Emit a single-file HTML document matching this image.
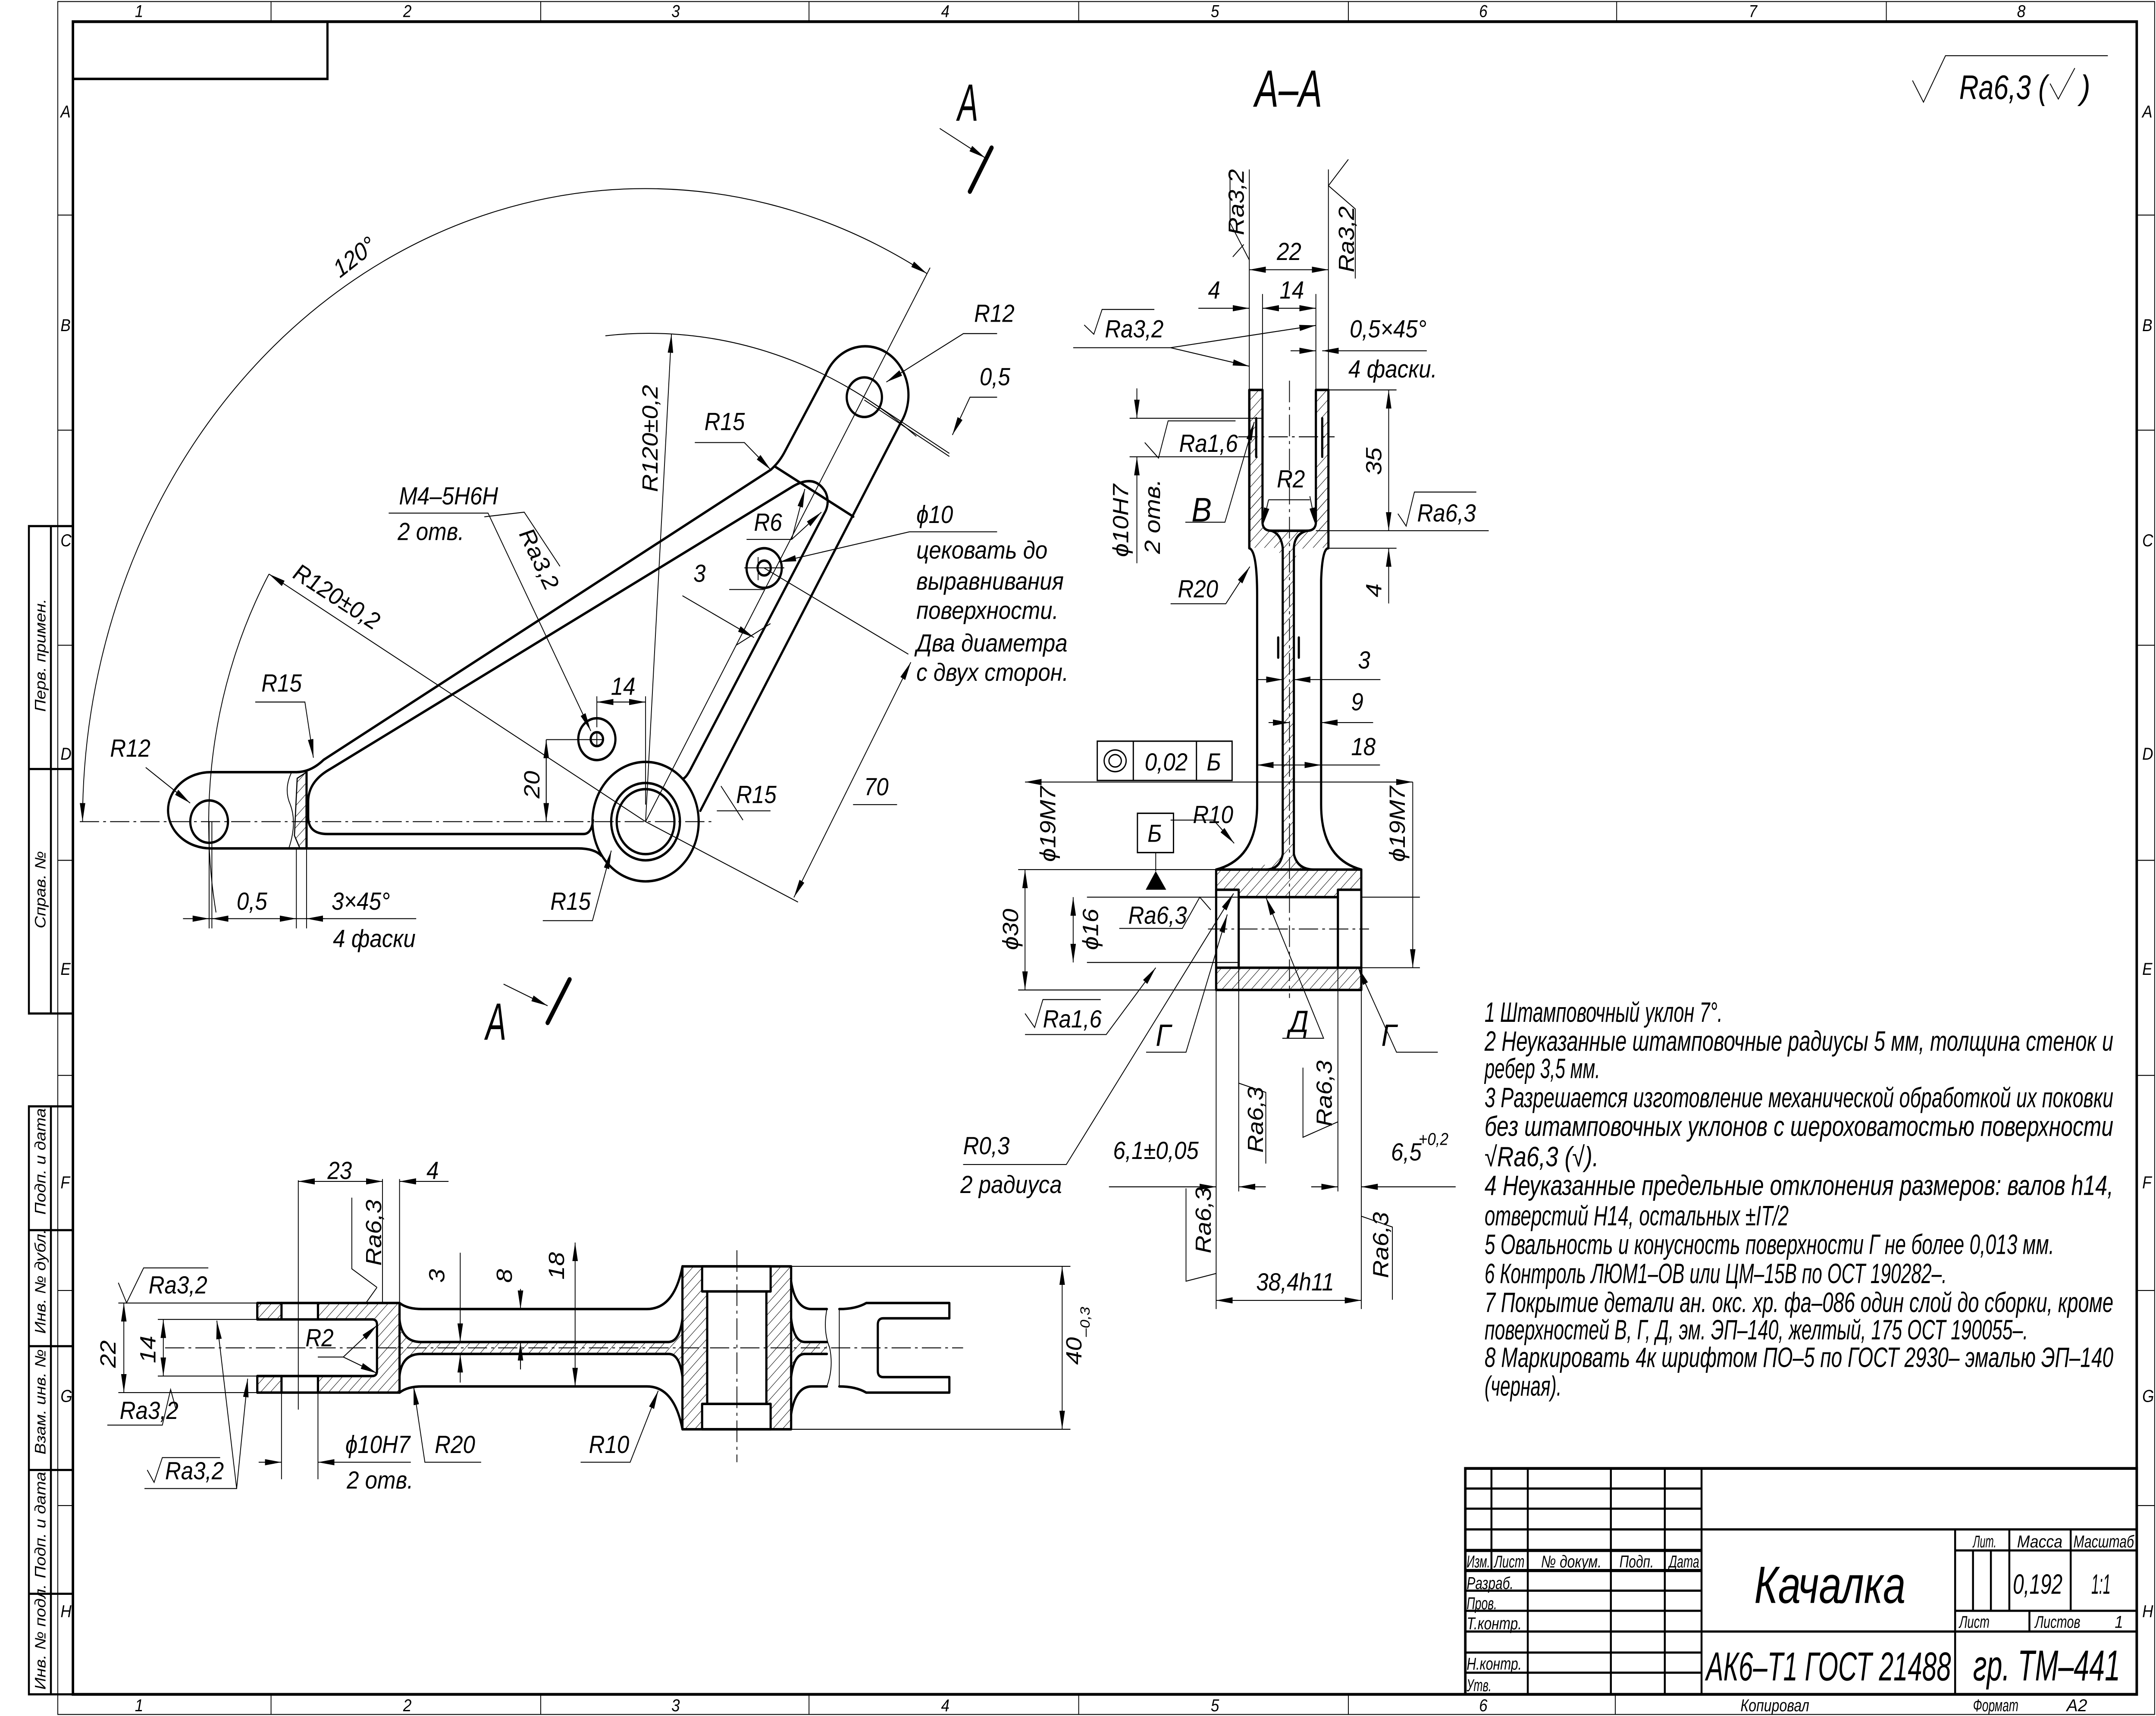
<!DOCTYPE html>
<html><head><meta charset="utf-8"><style>
html,body{margin:0;padding:0;background:#fff;width:100%;height:100%;overflow:hidden}
svg{display:block;position:fixed;left:0;top:0;width:100vw;height:100vh}
text{font-family:"Liberation Sans Narrow","Liberation Sans","DejaVu Sans",sans-serif;font-style:italic;fill:#000;stroke:none}
.k{stroke:#000;stroke-width:1.6;fill:none;stroke-linejoin:round;stroke-linecap:round}
.n{stroke:#000;stroke-width:0.6;fill:none}
.c{stroke:#000;stroke-width:0.6;fill:none;stroke-dasharray:14 3 2 3}
.d{font-size:16px}
</style></head><body>
<svg xmlns="http://www.w3.org/2000/svg" width="5623" height="3980" viewBox="0 0 1567 1109" preserveAspectRatio="none">
<defs>
<pattern id="h" width="5" height="5" patternUnits="userSpaceOnUse" patternTransform="rotate(45)"><line x1="0" y1="0" x2="0" y2="5" stroke="#000" stroke-width="0.6"/></pattern>
<marker id="a" viewBox="0 0 12 4" refX="12" refY="2" markerWidth="12" markerHeight="4" markerUnits="userSpaceOnUse" orient="auto-start-reverse"><path d="M0,0L12,2L0,4z" fill="#000"/></marker>
</defs>
<rect width="1567" height="1109" fill="#fff"/>

<!-- FRAME -->
<g class="n">
<rect x="42" y="1" width="1524" height="1107"/>
<path d="M197,1V14M393,1V14M588,1V14M784,1V14M980,1V14M1175,1V14M1371,1V14"/>
<path d="M197,1095V1108M393,1095V1108M588,1095V1108M784,1095V1108M980,1095V1108M1174,1095V1108"/>
<path d="M42,139H53M42,278H53M42,417H53M42,556H53M42,695H53M42,834H53M42,973H53"/>
<path d="M1553,139H1566M1553,278H1566M1553,417H1566M1553,556H1566M1553,695H1566M1553,834H1566M1553,973H1566"/>
</g>
<rect x="53" y="14" width="1500" height="1081" fill="none" stroke="#000" stroke-width="1.8"/>
<rect x="53" y="14" width="185" height="37" fill="none" stroke="#000" stroke-width="1.6"/>
<g font-size="11">
<text x="98" y="11">1</text><text x="293" y="11">2</text><text x="488" y="11">3</text><text x="684" y="11">4</text><text x="880" y="11">5</text><text x="1075" y="11">6</text><text x="1271" y="11">7</text><text x="1466" y="11">8</text>
<text x="98" y="1106">1</text><text x="293" y="1106">2</text><text x="488" y="1106">3</text><text x="684" y="1106">4</text><text x="880" y="1106">5</text><text x="1075" y="1106">6</text>
<text x="44" y="76">A</text><text x="44" y="214">B</text><text x="44" y="353">C</text><text x="44" y="491">D</text><text x="44" y="630">E</text><text x="44" y="768">F</text><text x="44" y="906">G</text><text x="44" y="1045">H</text>
<text x="1557" y="76">A</text><text x="1557" y="214">B</text><text x="1557" y="353">C</text><text x="1557" y="491">D</text><text x="1557" y="630">E</text><text x="1557" y="768">F</text><text x="1557" y="906">G</text><text x="1557" y="1045">H</text>
</g>
<!-- left stamp -->
<g stroke="#000" stroke-width="1.4" fill="none">
<rect x="21" y="340" width="32" height="315"/>
<rect x="21" y="715" width="32" height="380"/>
<path d="M37,340V655M37,715V1095M21,497H53M21,795H53M21,870H53M21,950H53M21,1030H53"/>
</g>
<g font-size="11">
<text transform="translate(33,460) rotate(-90)">Перв. примен.</text>
<text transform="translate(33,600) rotate(-90)">Справ. №</text>
<text transform="translate(33,785) rotate(-90)">Подп. и дата</text>
<text transform="translate(33,862) rotate(-90)">Инв. № дубл.</text>
<text transform="translate(33,940) rotate(-90)">Взам. инв. №</text>
<text transform="translate(33,1020) rotate(-90)">Подп. и дата</text>
<text transform="translate(33,1092) rotate(-90)">Инв. № подл.</text>
</g>

<!-- TOP RIGHT ROUGHNESS -->
<path class="n" d="M1390,52L1398,66L1414,36H1532" stroke-width="0.9"/>
<text x="1424" y="64" font-size="22" textLength="64" lengthAdjust="spacingAndGlyphs">Ra6,3 (</text>
<path class="n" d="M1490,54L1496,64L1508,44" stroke-width="0.9"/>
<text x="1512" y="64" font-size="22">)</text>

<!-- ===================== MAIN VIEW ===================== -->
<g class="n">
<path class="c" d="M58,531H520"/>
<path d="M60,531A409,409 0 0,1 673.7,176.8" marker-start="url(#a)" marker-end="url(#a)"/>
<path d="M469.2,531L676,173"/>
<path d="M195.5,371A317,317 0 0,0 157,589.7"/>
<path d="M469.2,531L195.5,371" marker-end="url(#a)"/>
<path d="M440,217A317,317 0 0,1 666,282"/>
<path d="M469.2,531L488,216" marker-end="url(#a)"/>
<path d="M152,531V600M154,531V600M215.4,548V600M222.8,548V600"/>
<path d="M133,593.7H302.5"/>
<path d="M140,593.7H152" marker-end="url(#a)"/>
<path d="M204,593.7H215.4" marker-end="url(#a)"/>
<path d="M236,593.7H222.8" marker-end="url(#a)"/>
<path d="M166,593.7H154" marker-end="url(#a)"/>
<path d="M433.8,478H400H397"/>
<path d="M397,478V531" marker-start="url(#a)"/>
<path d="M397,531V478" marker-start="url(#a)"/>
<path d="M433.8,470V450M469.2,520V450"/>
<path d="M433.8,453.7H469.2" marker-start="url(#a)" marker-end="url(#a)"/>
<path d="M282.5,331.6H354.7L429.4,472.4" marker-end="url(#a)"/>
<path d="M352,334L381,331L407,366"/>
<path d="M185.5,453.7H221.6L227.8,489.7" marker-end="url(#a)"/>
<path d="M105.9,496L138.2,519" marker-end="url(#a)"/>
<path d="M394.5,595H430.6L444.3,549.7" marker-end="url(#a)"/>
<path d="M505,286H541L560.2,303.6" marker-end="url(#a)"/>
<path d="M724.7,215.6H700.2L644.2,246.9" marker-end="url(#a)"/>
<path d="M724.7,256.7H705L692.2,281.1" marker-end="url(#a)"/>
<path d="M628.2,256.7L690,293M628.2,258.5L690,295"/>
<path d="M724.7,343.7H661L566.6,363.2" marker-end="url(#a)"/>
<path d="M542.6,348.6H575.4L585,316" marker-end="url(#a)"/>
<path d="M575.4,348.6L597,331" marker-end="url(#a)"/>
<path d="M555.4,367.1L660.2,422.8M469.2,531L580,583"/>
<path d="M577,580L662,428" marker-start="url(#a)" marker-end="url(#a)"/>
<path d="M620,520H652"/>
<path d="M496,385L548,412" marker-end="url(#a)"/>
<path d="M530,381H555.4"/>
<path d="M551,360V375M541,367H570M430,478H438M433.8,474V482"/>
<path d="M535,417L560,403"/>
<path d="M524,508L540,530"/>
<path d="M521,524H560"/>
</g>
<g class="k">
<path d="M215.4,499H153.2A31,24.6 0 0,0 153.2,548.3H420Q432,548.3 437,553"/>
<path d="M215.4,499Q226,499 235.3,491L560.2,303.6Q566,299 569.8,292.9L600.2,242A31.5,31.5 0 1,1 654.6,273.3L509,524"/>
<path d="M576.2,314.4L240,497Q224,505 224,518V528Q224,539 238,539H424Q430,539 431,530"/>
<path d="M576.2,314.4Q592,306 600,318Q603,324 600.2,330L502,497Q499,502 497,503"/>
<circle cx="469.2" cy="531" r="38.6"/>
<circle cx="469.2" cy="531" r="25"/>
<circle cx="469.2" cy="531" r="21"/>
<circle cx="152" cy="531" r="13.7"/>
<circle cx="628.2" cy="256.7" r="12.8"/>
<circle cx="433.8" cy="477.7" r="13.5"/><circle cx="433.8" cy="477.7" r="4.5"/>
<circle cx="555.4" cy="367.1" r="12.8"/><circle cx="555.4" cy="367.1" r="4.8"/>
<path d="M563.4,301.6L620.2,333.9"/>
<path d="M222.8,499V548.3"/>
</g>
<path d="M222.8,499L216,503L214,540L218,548.3H222.8Z" fill="url(#h)" stroke="#000" stroke-width="0.8"/>
<path class="n" d="M212,499Q206,510 211,520Q216,532 210,548"/>
<g class="d">
<text transform="translate(247,180) rotate(-35)">120°</text>
<text transform="translate(212,373) rotate(30)">R120±0,2</text>
<text transform="translate(478,318) rotate(-90)">R120±0,2</text>
<text x="290" y="326">M4–5H6H</text><text x="289" y="349">2 отв.</text>
<text transform="translate(377,345) rotate(62)">Ra3,2</text>
<text x="444" y="449">14</text>
<text transform="translate(392,516) rotate(-90)">20</text>
<text x="190" y="447">R15</text>
<text x="80" y="489">R12</text>
<text x="172" y="588">0,5</text><text x="241" y="588">3×45°</text><text x="242" y="612">4 фаски</text>
<text x="400" y="588">R15</text>
<text x="535" y="519">R15</text>
<text x="512" y="278">R15</text>
<text x="708" y="208">R12</text>
<text x="712" y="249">0,5</text>
<text x="548" y="343">R6</text>
<text x="504" y="376">3</text>
<text x="628" y="514">70</text>
<text x="666" y="338">ϕ10</text>
<text x="666" y="361">цековать до</text>
<text x="666" y="381">выравнивания</text>
<text x="666" y="400">поверхности.</text>
<text x="666" y="421">Два диаметра</text>
<text x="666" y="440">с двух сторон.</text>
</g>
<text x="696" y="78" font-size="34" textLength="15" lengthAdjust="spacingAndGlyphs" font-style="normal">A</text>
<path class="n" d="M683,83L716,102" marker-end="url(#a)"/>
<path d="M720.7,95.5L704.9,123.8" stroke="#000" stroke-width="3" stroke-linecap="round"/>
<text x="353" y="672" font-size="34" textLength="15" lengthAdjust="spacingAndGlyphs" font-style="normal">A</text>
<path class="n" d="M366,636L398,650" marker-end="url(#a)"/>
<path d="M414,633L398,661" stroke="#000" stroke-width="3" stroke-linecap="round"/>
<text x="912" y="69" font-size="34" textLength="49" lengthAdjust="spacingAndGlyphs">A–A</text>

<!-- ===================== SECTION A-A ===================== -->
<g fill="url(#h)" stroke="none">
<rect x="908" y="252" width="9.6" height="91"/>
<rect x="956.4" y="252" width="9.1" height="91"/>
<path d="M908,318H917.6V338Q920,343 926,343H948Q954,343 956.4,338V318H965.5V354H908Z"/>
<path d="M926,354H948Q942,356 940.4,364V552Q944,562 960,562H883.9V562Q925,562 932.3,552V364Q931,356 926,354Z"/>
<rect x="883.9" y="562" width="105.5" height="17"/>
<rect x="883.9" y="625" width="105.5" height="14.8"/>
</g>
<rect x="913" y="270.3" width="4.6" height="24.9" fill="#fff"/>
<rect x="956.4" y="270.3" width="4.6" height="24.9" fill="#fff"/>
<rect x="884.5" y="575" width="15.8" height="50.4" fill="#fff"/>
<rect x="972.4" y="575" width="16.4" height="50.4" fill="#fff"/>
<g class="k">
<path d="M908,252H917.6V338Q918,343 924,343H950Q956,343 956.4,338V252H965.5V354.3Q961,354.3 960.2,375Q960.2,385 960.2,385V520Q960.2,555 989.4,562V639.8H883.9V562Q913.7,555 913.7,520V385Q913.7,356 908,354.3Z"/>
<path d="M908,252V354.3"/>
<path d="M913,270.3V295.2M961,270.3V295.2"/>
<path d="M883.9,562H989.4M883.9,575H900.3V625.4H883.9M989.4,575H972.4V625.4H989.4"/>
<path d="M900.3,579.8H972.4M900.3,625.4H972.4"/>
<path d="M932.3,354V552M940.4,354V552"/>
<path d="M924,343Q931,345 932.3,354M950,343Q941,345 940.4,354"/>
<path d="M932.3,552Q930,562 920,562M940.4,552Q943,562 955,562"/>
<path d="M929,412V425M944,412V425"/>
</g>
<g class="n">
<path class="c" d="M937.2,246V645M900,282.3H970M878,600.4H995"/>
<path d="M908,109.5V252M965.5,109.5V252M917.6,190V252M956.4,190V252"/>
<path d="M908,174.3H965.5" marker-start="url(#a)" marker-end="url(#a)"/>
<path d="M871,199.2H908" marker-end="url(#a)"/>
<path d="M917.6,199.2H956.4" marker-start="url(#a)" marker-end="url(#a)"/>
<path d="M894,144L908,168M894,144V110M896,166L904,158"/>
<path d="M965.5,120L980,103M965.5,120L985,135V180"/>
<path d="M780,224.7H850.8L908,236.7" marker-end="url(#a)"/>
<path d="M850.8,224.7L956.4,210.3" marker-end="url(#a)"/>
<path d="M788,210L795,216L801,200H839"/>
<path d="M938,226.7H956.4" marker-end="url(#a)"/>
<path d="M1037,226.7H961" marker-end="url(#a)"/>
<path d="M965.5,252H1015M956.4,343H1082M965.5,354.3H1015"/>
<path d="M1009.3,252V343" marker-start="url(#a)" marker-end="url(#a)"/>
<path d="M1009.3,390V354.3" marker-end="url(#a)"/>
<path d="M1016,332L1022,340L1028,318H1073"/>
<path d="M821,270.3H917M821,295.2H908"/>
<path d="M826.3,251V270.3" marker-end="url(#a)"/>
<path d="M826.3,364V295.2" marker-end="url(#a)"/>
<path d="M832,286L842,296L849,272H898"/>
<path d="M861.5,337.5H890.3L911.6,272.7" marker-end="url(#a)"/>
<path d="M922,323L917.6,340" marker-end="url(#a)"/>
<path d="M952,320.7L956.4,340" marker-end="url(#a)"/>
<path d="M922,323H952"/>
<path d="M850.8,390.2H890.9L908.4,366.2" marker-end="url(#a)"/>
<path d="M913.7,439.2H932.3" marker-end="url(#a)"/>
<path d="M1003.3,439.2H940.4" marker-end="url(#a)"/>
<path d="M922,467H937.2" marker-end="url(#a)"/>
<path d="M998,467H960.2" marker-end="url(#a)"/>
<path d="M913.7,494.4H960.2" marker-start="url(#a)" marker-end="url(#a)"/>
<path d="M960.2,494.4H1003"/>
<path d="M745,505.4H1026.8" marker-start="url(#a)" marker-end="url(#a)"/>
<path d="M1026.8,625.4V505.4" marker-start="url(#a)"/>
<path d="M989.4,625.4H1032M989.4,579.8H1032"/>
<path d="M850.8,530H882L897,545" marker-end="url(#a)"/>
<path d="M740,562H883.9M740,639.8H883.9M790,579.8H900M790,622H900"/>
<path d="M745,562V639.8" marker-start="url(#a)" marker-end="url(#a)"/>
<path d="M780,579.8V622" marker-start="url(#a)" marker-end="url(#a)"/>
<path d="M813.5,600H859.3L872,579.8L880,588"/>
<path d="M745,668.6H804L840,625.4" marker-end="url(#a)"/>
<path d="M833,680H862L892,591" marker-end="url(#a)"/>
<path d="M932,671H962L920,579.8" marker-end="url(#a)"/>
<path d="M1045,680H1015L987,625" marker-end="url(#a)"/>
<path d="M700,752.6H775L896.6,577.4" marker-end="url(#a)"/>
<path d="M900.3,625.4V770M972.4,625.4V770M883.9,639.8V846M989.4,639.8V846"/>
<path d="M806,767H883.9" marker-end="url(#a)"/>
<path d="M920,767H900.3" marker-end="url(#a)"/>
<path d="M953,767H972.4" marker-end="url(#a)"/>
<path d="M1058,767H989.4" marker-end="url(#a)"/>
<path d="M883.9,840.4H989.4" marker-start="url(#a)" marker-end="url(#a)"/>
<path d="M900.3,700L920,706V752M972.4,725L947,735V690M883.9,823L862,828V768M989.4,786L1012,793V840"/>
</g>
<path d="M840,563L832.7,575H847.6Z" fill="#000"/>
<path class="n" d="M840,551V563" stroke-width="0.8"/>
<g stroke="#000" stroke-width="0.9" fill="none">
<rect x="797.5" y="479" width="98" height="25.4"/>
<path d="M823.7,479V504.4M869.6,479V504.4"/>
<ellipse cx="810.5" cy="491.7" rx="8" ry="7"/><ellipse cx="810.5" cy="491.7" rx="4.5" ry="4"/>
<rect x="826.7" y="525.6" width="26.2" height="25.4"/>
</g>
<g class="d">
<text x="928" y="168">22</text>
<text x="878" y="193">4</text><text x="930" y="193">14</text>
<text transform="translate(904,152) rotate(-90)">Ra3,2</text>
<text transform="translate(984,176) rotate(-90)">Ra3,2</text>
<text x="803" y="218">Ra3,2</text>
<text x="981" y="218">0,5×45°</text><text x="980" y="244">4 фаски.</text>
<text transform="translate(1004,307) rotate(-90)">35</text>
<text transform="translate(1004,386) rotate(-90)">4</text>
<text x="1030" y="337">Ra6,3</text>
<text transform="translate(820,360) rotate(-90)">ϕ10H7</text>
<text transform="translate(843,358) rotate(-90)">2 отв.</text>
<text x="857" y="292">Ra1,6</text>
<text x="866" y="337" font-size="22">B</text>
<text x="928" y="315">R2</text>
<text x="856" y="386">R20</text>
<text x="987" y="432">3</text><text x="982" y="459">9</text><text x="982" y="488">18</text>
<text x="832" y="498">0,02</text><text x="877" y="498">Б</text>
<text x="834" y="544">Б</text>
<text x="867" y="532">R10</text>
<text transform="translate(767,557) rotate(-90)">ϕ19M7</text>
<text transform="translate(1021,557) rotate(-90)">ϕ19M7</text>
<text transform="translate(740,614) rotate(-90)">ϕ30</text>
<text transform="translate(798,614) rotate(-90)">ϕ16</text>
<text x="820" y="597">Ra6,3</text>
<path class="n" d="M745,655L752,664L758,646H800"/>
<text x="758" y="664">Ra1,6</text>
<text x="840" y="676" font-size="20">Г</text>
<text x="1004" y="676" font-size="20">Г</text>
<text x="937" y="667" font-size="20">Д</text>
<text x="700" y="746">R0,3</text><text x="698" y="771">2 радиуса</text>
<text x="809" y="749">6,1±0,05</text>
<text x="1011" y="750">6,5</text><text x="1031" y="740" font-size="11">+0,2</text>
<text transform="translate(918,745) rotate(-90)">Ra6,3</text>
<text transform="translate(968,728) rotate(-90)">Ra6,3</text>
<text transform="translate(880,810) rotate(-90)">Ra6,3</text>
<text transform="translate(1009,826) rotate(-90)">Ra6,3</text>
<text x="913" y="834">38,4h11</text>
</g>

<!-- ===================== BOTTOM VIEW ===================== -->
<g fill="url(#h)" stroke="none">
<rect x="187" y="842.1" width="17.6" height="10.6"/>
<rect x="231.1" y="842.1" width="59.3" height="10.6"/>
<rect x="187" y="889.3" width="17.6" height="10.7"/>
<rect x="231.1" y="889.3" width="59.3" height="10.7"/>
<path d="M271,852.7H290.4V889.3H271Q274,889 274,886V856Q274,853 271,852.7Z"/>
<path d="M290.4,852.7Q292,867.3 306,867.3H486Q494,867 496,852V890Q494,875 486,875H306Q292,875 290.4,889.3Z"/>
<rect x="496" y="818.4" width="18" height="105.3"/>
<rect x="557" y="818.4" width="18" height="105.3"/>
<path d="M575,852Q577,867.3 585,867.3H601V875H585Q577,875 575,890Z"/>
</g>
<rect x="510.3" y="818.4" width="49.8" height="16.2" fill="#fff"/>
<rect x="510.3" y="907.3" width="49.8" height="16.4" fill="#fff"/>
<g class="k">
<path d="M187,842.1H290.4V900H187V889.3H271Q274,889 274,886V856Q274,853 271,852.7H187Z"/>
<path d="M204.6,842.1V852.7M231.1,842.1V852.7M204.6,889.3V900M231.1,889.3V900"/>
<path d="M290.4,842.1Q296,846 306.8,846H470.2Q490,846 496,818.4"/>
<path d="M290.4,900Q296,896 306.8,896H470.2Q490,896 496,923.7"/>
<path d="M290.4,852.7Q292,867.3 306,867.3H486Q494,867 496,852"/>
<path d="M290.4,889.3Q292,875 306,875H486Q494,875 496,890"/>
<rect x="496" y="818.4" width="79" height="105.3"/>
<rect x="510.3" y="818.4" width="49.8" height="16.2"/>
<rect x="510.3" y="907.3" width="49.8" height="16.4"/>
<path d="M514,834.6V907.3M557,834.6V907.3"/>
<path d="M575,828Q578,846 590,846H601M575,914Q578,896 590,896H601"/>
<path d="M575,852Q577,867.3 585,867.3H601M575,890Q577,875 585,875H601"/>
<path d="M610,846Q622,846 629.6,842.1H690V852M610,896Q622,896 629.6,900H690V890"/>
<path d="M690,852H642Q638,852 638,856V886Q638,890 642,890H690"/>
</g>
<path class="n" d="M601,846Q598,860 603,871Q606,884 601,896M610,846V896" stroke-width="0.7"/>
<g class="n">
<path class="c" d="M120,871.1H700M535.6,808V945"/>
<path d="M86,842.1H187M86,900H187M114.7,852.7H187M114.7,889.3H187"/>
<path d="M90,842.1V900" marker-start="url(#a)" marker-end="url(#a)"/>
<path d="M118.7,852.7V889.3" marker-start="url(#a)" marker-end="url(#a)"/>
<path d="M216.8,762.8V911M278,762V842M290.4,762V842M204.6,900V956M231.1,900V956"/>
<path d="M216.8,763.5H278" marker-start="url(#a)" marker-end="url(#a)"/>
<path d="M326,763.5H290.4" marker-end="url(#a)"/>
<path d="M255.7,774V820L274,832M274,832L266,842"/>
<path d="M86,829L92,842L104.4,819.4H151.4"/>
<path d="M78,921H118L124,898L128,911"/>
<path d="M231,877H249.5L274,856.5" marker-end="url(#a)"/>
<path d="M249.5,877L274,887.5" marker-end="url(#a)"/>
<path d="M105,962H172L157.6,853.5" marker-end="url(#a)"/>
<path d="M172,962L180,891" marker-end="url(#a)"/>
<path d="M188,945H204.6" marker-end="url(#a)"/>
<path d="M298.6,945H231.1" marker-end="url(#a)"/>
<path d="M349.7,945H308.8L300.6,896" marker-end="url(#a)"/>
<path d="M422,945H458L478.4,898.8" marker-end="url(#a)"/>
<path d="M334.5,809.6V867.3" marker-end="url(#a)"/>
<path d="M334.5,893.5V875" marker-end="url(#a)"/>
<path d="M378.3,833V846" marker-end="url(#a)"/>
<path d="M378.3,885V867.3" marker-end="url(#a)"/>
<path d="M378.3,867.3V885"/>
<path d="M418,803V896" marker-start="url(#a)" marker-end="url(#a)"/>
<path d="M575,818.4H778M575,923.7H778"/>
<path d="M772,818.4V923.7" marker-start="url(#a)" marker-end="url(#a)"/>
</g>
<g class="d">
<text x="238" y="762">23</text><text x="310" y="762">4</text>
<text transform="translate(277,818) rotate(-90)">Ra6,3</text>
<text x="108" y="836">Ra3,2</text>
<text transform="translate(84,884) rotate(-90)">22</text>
<text transform="translate(113,881) rotate(-90)">14</text>
<text x="222" y="870">R2</text>
<text x="87" y="917">Ra3,2</text>
<path class="n" d="M107,950L112,958L118,942H160"/>
<text x="120" y="956">Ra3,2</text>
<text x="251" y="939">ϕ10H7</text><text x="252" y="962">2 отв.</text>
<text x="316" y="939">R20</text>
<text x="428" y="939">R10</text>
<text transform="translate(323,829) rotate(-90)">3</text>
<text transform="translate(372,829) rotate(-90)">8</text>
<text transform="translate(410,827) rotate(-90)">18</text>
<text transform="translate(786,882) rotate(-90)">40</text>
<text transform="translate(792,864) rotate(-90)" font-size="10">–0,3</text>
</g>

<!-- ===================== NOTES ===================== -->
<g font-size="18">
<text x="1079" y="660.4" textLength="173" lengthAdjust="spacingAndGlyphs">1 Штамповочный уклон 7°.</text>
<text x="1079" y="679" textLength="457" lengthAdjust="spacingAndGlyphs">2 Неуказанные  штамповочные  радиусы  5  мм,  толщина  стенок  и</text>
<text x="1079" y="696.8" textLength="84" lengthAdjust="spacingAndGlyphs">ребер 3,5 мм.</text>
<text x="1079" y="715.5" textLength="457" lengthAdjust="spacingAndGlyphs">3 Разрешается изготовление механической обработкой их поковки</text>
<text x="1079" y="734.1" textLength="457" lengthAdjust="spacingAndGlyphs">без    штамповочных    уклонов    с    шероховатостью    поверхности</text>
<text x="1079" y="753.7" textLength="83" lengthAdjust="spacingAndGlyphs">√Ra6,3 (√).</text>
<text x="1079" y="772.3" textLength="457" lengthAdjust="spacingAndGlyphs">4 Неуказанные    предельные    отклонения    размеров:    валов    h14,</text>
<text x="1079" y="791.9" textLength="221" lengthAdjust="spacingAndGlyphs">отверстий H14, остальных ±IT/2</text>
<text x="1079" y="810.5" textLength="414" lengthAdjust="spacingAndGlyphs">5 Овальность и конусность поверхности Г не более 0,013 мм.</text>
<text x="1079" y="829.2" textLength="336" lengthAdjust="spacingAndGlyphs">6 Контроль ЛЮМ1–ОВ или ЦМ–15В по ОСТ 190282–.</text>
<text x="1079" y="847.9" textLength="457" lengthAdjust="spacingAndGlyphs">7 Покрытие детали ан. окс. хр. фа–086 один слой до сборки, кроме</text>
<text x="1079" y="865.6" textLength="395" lengthAdjust="spacingAndGlyphs">поверхностей В, Г, Д, эм. ЭП–140, желтый, 175 ОСТ 190055–.</text>
<text x="1079" y="883.4" textLength="457" lengthAdjust="spacingAndGlyphs">8 Маркировать 4к шрифтом ПО–5 по ГОСТ 2930– эмалью ЭП–140</text>
<text x="1079" y="902" textLength="56" lengthAdjust="spacingAndGlyphs">(черная).</text>
</g>

<!-- ===================== TITLE BLOCK ===================== -->
<g stroke="#000" fill="none">
<rect x="1065" y="949" width="488" height="146" stroke-width="1.8"/>
<g stroke-width="1.4">
<path d="M1084,949V1015M1110.4,949V1095M1170.8,949V1095M1210,949V1095M1236.7,949V1095"/>
<path d="M1065,962H1236.7M1065,975H1236.7M1065,988.4H1236.7M1065,1028H1236.7M1065,1041H1236.7M1065,1054.4H1236.7M1065,1068H1236.7M1065,1081H1236.7"/>
<path d="M1236.7,988.4H1553M1421,1002H1553M1421,1041H1553M1236.7,1054.4H1553"/>
<path d="M1421,988.4V1095M1434,1002V1041M1447,1002V1041M1460.4,988.4V1041M1505,988.4V1041M1475,1041V1054.4"/>
</g>
<path d="M1065,1002H1236.7M1065,1015H1236.7" stroke-width="2"/>
</g>
<g font-size="11">
<text x="1066" y="1013" textLength="17" lengthAdjust="spacingAndGlyphs">Изм.</text>
<text x="1086" y="1013" textLength="22" lengthAdjust="spacingAndGlyphs">Лист</text>
<text x="1120" y="1013" textLength="44" lengthAdjust="spacingAndGlyphs">№ докум.</text>
<text x="1177" y="1013" textLength="25" lengthAdjust="spacingAndGlyphs">Подп.</text>
<text x="1213" y="1013" textLength="22" lengthAdjust="spacingAndGlyphs">Дата</text>
<text x="1066" y="1027" textLength="34" lengthAdjust="spacingAndGlyphs">Разраб.</text>
<text x="1066" y="1040" textLength="22" lengthAdjust="spacingAndGlyphs">Пров.</text>
<text x="1066" y="1053" textLength="40" lengthAdjust="spacingAndGlyphs">Т.контр.</text>
<text x="1066" y="1079" textLength="40" lengthAdjust="spacingAndGlyphs">Н.контр.</text>
<text x="1066" y="1093" textLength="18" lengthAdjust="spacingAndGlyphs">Утв.</text>
<text x="1434" y="1000" textLength="17" lengthAdjust="spacingAndGlyphs">Лит.</text>
<text x="1466" y="1000" textLength="33" lengthAdjust="spacingAndGlyphs">Масса</text>
<text x="1507" y="1000" textLength="44" lengthAdjust="spacingAndGlyphs">Масштаб</text>
<text x="1424" y="1052" textLength="22" lengthAdjust="spacingAndGlyphs">Лист</text>
<text x="1479" y="1052" textLength="33" lengthAdjust="spacingAndGlyphs">Листов</text>
<text x="1537" y="1052">1</text>
<text x="1265" y="1106" textLength="50" lengthAdjust="spacingAndGlyphs">Копировал</text>
<text x="1434" y="1106" textLength="33" lengthAdjust="spacingAndGlyphs">Формат</text>
<text x="1502" y="1106" textLength="15" lengthAdjust="spacingAndGlyphs">А2</text>
</g>
<text x="1275" y="1036" font-size="34" textLength="110" lengthAdjust="spacingAndGlyphs">Качалка</text>
<text x="1463" y="1030" font-size="18" textLength="36" lengthAdjust="spacingAndGlyphs">0,192</text>
<text x="1520" y="1030" font-size="18" textLength="14" lengthAdjust="spacingAndGlyphs">1:1</text>
<text x="1240" y="1086" font-size="26" textLength="178" lengthAdjust="spacingAndGlyphs">АК6–Т1 ГОСТ 21488</text>
<text x="1434" y="1086" font-size="28" textLength="107" lengthAdjust="spacingAndGlyphs">гр. ТМ–441</text>
</svg>
</body></html>
